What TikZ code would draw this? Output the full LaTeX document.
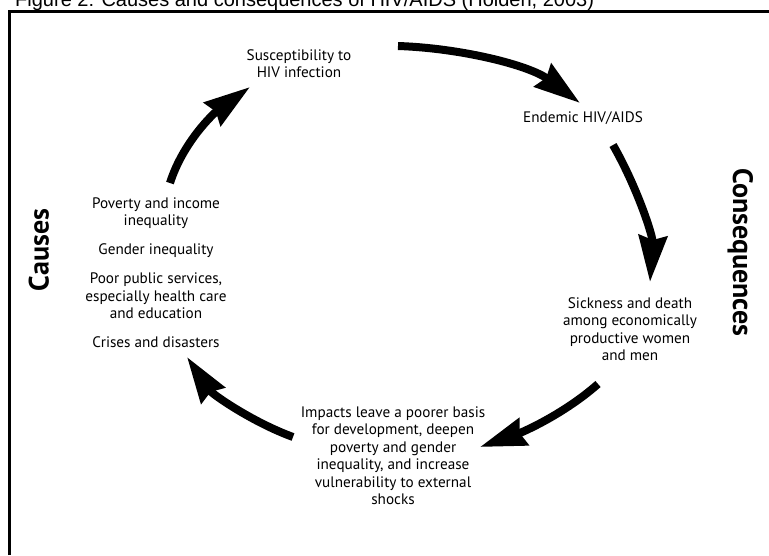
\documentclass[tikz,border=0pt]{standalone}
\usepackage{fontspec}
\setmainfont{PT Sans}
\newfontfamily\titlefont{Liberation Sans}
\usetikzlibrary{arrows.meta}

\begin{document}
\begin{tikzpicture}[x=1pt,y=-1pt
        ,item/.style = {font=\fontsize{15.2}{17.5}\selectfont, align=center, inner sep=0pt}
        ,legend/.style = {font=\fontsize{28}{28}\selectfont\bfseries, inner sep=0pt, anchor=base}
        ,cycle/.style = {line width=8pt, -{Stealth[length=46pt,width=28pt,inset=4pt]}}
        ,frame/.style = {line width=3pt}
      ]
      \useasboundingbox (0,0) rectangle (769,555);

      \node[anchor=base west, inner sep=0pt, font=\titlefont\fontsize{20}{20}\selectfont](title) at (15,6)
        {Figure 2: Causes and consequences of HIV/AIDS (Holden, 2003)};
      \draw[frame] (9.5,555) -- (9.5,11.5) -- (769,11.5);

      \node[item](susc) at (299,63.5) {Susceptibility to\\HIV infection};
      \node[item](endemic) at (583,118.5) {Endemic HIV/AIDS};
      \node[item](sick) at (630,329) {Sickness and death\\among economically\\productive women\\and men};
      \node[item](impacts) at (393,455.5) {Impacts leave a poorer basis\\for development, deepen\\poverty and gender\\inequality, and increase\\vulnerability to external\\shocks};
      \node[item](poverty) at (156,213) {Poverty and income\\inequality};
      \node[item](gender) at (156,250.5) {Gender inequality};
      \node[item](poor) at (156,296) {Poor public services,\\especially health care\\and education};
      \node[item](crises) at (156,342.5) {Crises and disasters};

      \node[legend, rotate=90](causes) at (48.5,250) {Causes};
      \node[legend, rotate=-90](conseq) at (733,252.5) {Consequences};

      \coordinate (c1a) at (170,183);
      \coordinate (c1b) at (250,87);
      \coordinate (c2a) at (398,46);
      \coordinate (c2b) at (580,103);
      \coordinate (c3a) at (613,145);
      \coordinate (c3b) at (650,282);
      \coordinate (c4a) at (598,384);
      \coordinate (c4b) at (480,447);
      \coordinate (c5a) at (293,437);
      \coordinate (c5b) at (187,357);

      \draw[cycle] (c1a) .. controls (183,142) and (214,113) .. (c1b);
      \draw[cycle] (c2a) .. controls (460,48) and (529,65) .. (c2b);
      \draw[cycle] (c3a) .. controls (637,187) and (653,236) .. (c3b);
      \draw[cycle] (c4a) .. controls (564,414) and (523,432) .. (c4b);
      \draw[cycle] (c5a) .. controls (252,422) and (212,394) .. (c5b);
    \end{tikzpicture}
\end{document}
